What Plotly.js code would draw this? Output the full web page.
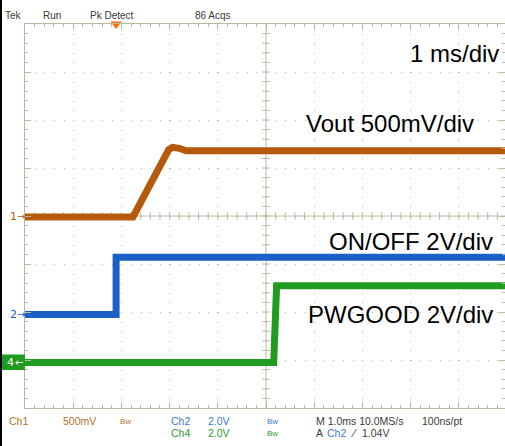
<!DOCTYPE html>
<html><head><meta charset="utf-8">
<script src="https://cdn.plot.ly/plotly-3.0.1.min.js"></script>
<style>html,body{margin:0;padding:0;background:#fff;}#chart{width:505px;height:446px;}</style>
</head><body><div id="chart"></div>
<script>
// ---- data (time in ms, voltages in V) ----
const ch1_time  = [0, 2.24, 2.98, 3.06, 3.20, 3.34, 9.96];
const ch1_volts = [0, 0, 0.70, 0.725, 0.715, 0.69, 0.69];
const ch2_time  = [0, 1.89, 1.89, 9.96];
const ch2_volts = [0, 0, 2.38, 2.38];
const ch4_time  = [0, 5.16, 5.22, 9.96];
const ch4_volts = [0, 0, 3.19, 3.19];
const trigger_time = 1.89;
const channel_labels = ["Vout 500mV/div", "ON/OFF 2V/div", "PWGOOD 2V/div"];
const timebase_label = "1 ms/div";
const header_labels = ["Tek", "Run", "Pk Detect", "86 Acqs"];
// vertical scale (V/div) and ground position (div from bottom)
const ch1_scale = 0.5, ch2_scale = 2, ch4_scale = 2;
const ch1_pos = 3.98, ch2_pos = 1.95, ch4_pos = 0.95;

const toDiv = (v, s, p) => v.map(x => p + x / s);

const C1 = '#b45a0a', C2 = '#1a60c6', C4 = '#1f9c1f';
const T1 = '#b8702e', T2 = '#3a7bd0', T4 = '#2e9a2e', TD = '#3a3a3a';
const GC = '#bdb8a2';
const FONT = 'Liberation Sans, Arial, sans-serif';

const traces = [
  {x: ch1_time, y: toDiv(ch1_volts, ch1_scale, ch1_pos), mode: 'lines', line: {color: C1, width: 7}, hoverinfo: 'skip'},
  {x: ch2_time, y: toDiv(ch2_volts, ch2_scale, ch2_pos), mode: 'lines', line: {color: C2, width: 7}, hoverinfo: 'skip'},
  {x: ch4_time, y: toDiv(ch4_volts, ch4_scale, ch4_pos), mode: 'lines', line: {color: C4, width: 7}, hoverinfo: 'skip'},
  {x: [trigger_time], y: [8], mode: 'markers', marker: {symbol: 'triangle-down', size: 10, color: '#ff6a13'}, cliponaxis: false, hoverinfo: 'skip'}
];

// pixel helpers for layout decorations
const L = 25, T = 24, W = 480, H = 384;
const px = x => (x - L) / W;
const py = y => (T + H - y) / H;
function txt(text, x, y, size, color, anchor, family) {
  return {text: text, xref: 'paper', yref: 'paper', x: px(x), y: py(y),
    xanchor: anchor || 'left', yanchor: 'middle', showarrow: false, borderpad: 0,
    font: {family: family || FONT, size: size, color: color}};
}

const shapes = [];
shapes.push({type: 'line', xref: 'x', yref: 'y', x0: 5, x1: 5, y0: 0, y1: 8, line: {color: GC, width: 1}, layer: 'between'});
shapes.push({type: 'line', xref: 'x', yref: 'y', x0: 0, x1: 10, y0: 4, y1: 4, line: {color: GC, width: 1}, layer: 'between'});
for (let i = 1; i < 50; i++) {
  const x = i * 0.2;
  shapes.push({type: 'line', xref: 'x', yref: 'y', x0: x, x1: x, y0: 4 - 0.08, y1: 4 + 0.08, line: {color: GC, width: 1}, layer: 'between'});
}
for (let j = 1; j < 40; j++) {
  const y = j * 0.2;
  shapes.push({type: 'line', xref: 'x', yref: 'y', x0: 5 - 0.08, x1: 5 + 0.08, y0: y, y1: y, line: {color: GC, width: 1}, layer: 'between'});
}
// black frame on left edge
shapes.push({type: 'line', xref: 'paper', yref: 'paper', x0: px(1), x1: px(1), y0: py(0), y1: py(446), line: {color: '#000', width: 2}});
// green selected-channel box
shapes.push({type: 'rect', xref: 'paper', yref: 'paper', x0: px(2), x1: px(25), y0: py(354.5), y1: py(370), fillcolor: C4, line: {width: 0}});

const hx = [4, 42, 89, 194];
const annotations = [];
header_labels.forEach((h, i) => annotations.push(txt(h, hx[i], 15, 10, TD)));
annotations.push(txt(timebase_label, 500, 53, 24, '#000', 'right'));
annotations.push(txt(channel_labels[0], 305, 123, 24, '#000'));
annotations.push(txt(channel_labels[1], 328, 241, 24, '#000'));
annotations.push(txt(channel_labels[2], 307, 314, 24, '#000'));
const MF = 'DejaVu Sans, sans-serif';
annotations.push(txt('1', 9, 216, 11, C1, 'left', MF));
annotations.push(txt('→', 16, 216, 10, C1, 'left', MF));
annotations.push(txt('2', 9, 314, 11, C2, 'left', MF));
annotations.push(txt('→', 16, 314, 10, C2, 'left', MF));
annotations.push(txt('4', 6, 362, 11, '#fff', 'left', MF));
annotations.push(txt('←', 14, 362, 10, '#fff', 'left', MF));
// bottom readouts
annotations.push(txt('Ch1', 8, 421, 10.5, T1));
annotations.push(txt('500mV', 62, 421, 10.5, T1));
annotations.push(txt('Bw', 119, 421, 8, T1));
annotations.push(txt('Ch2', 170, 421, 10.5, T2));
annotations.push(txt('2.0V', 207, 421, 10.5, T2));
annotations.push(txt('Bw', 266, 421, 8, T2));
annotations.push(txt('M 1.0ms 10.0MS/s', 315, 421, 10.5, TD));
annotations.push(txt('100ns/pt', 421, 421, 10.5, TD));
annotations.push(txt('Ch4', 170, 433, 10.5, T4));
annotations.push(txt('2.0V', 207, 433, 10.5, T4));
annotations.push(txt('Bw', 266, 433, 8, T4));
annotations.push(txt('A', 315, 433, 10.5, TD));
annotations.push(txt('Ch2', 326, 433, 10.5, T2));
annotations.push(txt('⁄', 350, 433, 10.5, TD, 'left', MF));
annotations.push(txt('1.04V', 361, 433, 10.5, TD));

const axisCommon = {
  showticklabels: false, showgrid: true, gridcolor: '#b5b5b5', gridwidth: 1,
  showline: true, linecolor: GC, linewidth: 1, mirror: 'ticks',
  ticks: 'inside', ticklen: 6, tickcolor: GC, tickwidth: 1,
  minor: {dtick: 0.2, ticks: 'inside', ticklen: 3, tickcolor: GC, showgrid: false},
  zeroline: false, fixedrange: true, dtick: 1, tick0: 0
};

const layout = {
  width: 505, height: 446,
  margin: {l: L, r: 0, t: T, b: 446 - T - H, pad: 0},
  paper_bgcolor: '#fff', plot_bgcolor: '#fff',
  showlegend: false,
  xaxis: Object.assign({}, axisCommon, {range: [0, W / 48.2], griddash: '1px,8.6px'}),
  yaxis: Object.assign({}, axisCommon, {range: [0, 8], griddash: '1px,8.64px'}),
  shapes: shapes, annotations: annotations
};

Plotly.newPlot('chart', traces, layout, {staticPlot: true, displayModeBar: false});
</script></body></html>
